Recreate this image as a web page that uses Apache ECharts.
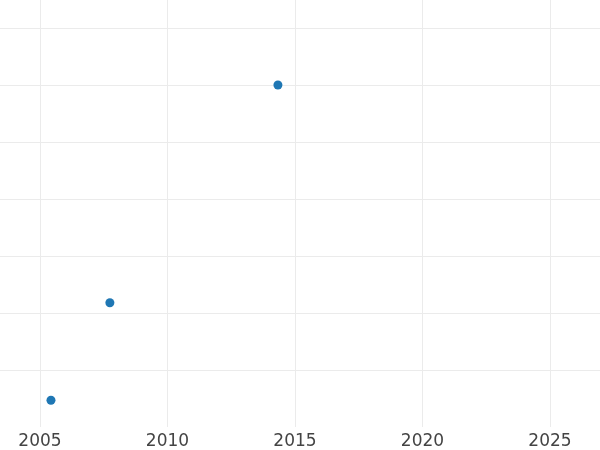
<!DOCTYPE html>
<html>
<head>
<meta charset="utf-8">
<script src="https://cdn.jsdelivr.net/npm/echarts@6/dist/echarts.min.js"></script>
<style>
html,body{margin:0;padding:0;background:#fff;}
#chart{width:600px;height:450px;}
</style>
</head>
<body>
<div id="chart"></div>
<script>
// Data
const years = [2005.43, 2007.74, 2014.33];
const values = [0.47, 2.18, 6.0];
const xTicks = [2005, 2010, 2015, 2020, 2025];

const chart = echarts.init(document.getElementById('chart'), null, {renderer: 'canvas'});
const points = years.map((y, i) => [y, values[i]]);

const G = '#ebebeb', N = 'rgba(0,0,0,0)';

chart.setOption({
  animation: false,
  backgroundColor: '#ffffff',
  grid: {left: -87.5, right: -77.5, top: -29, bottom: 23, containLabel: false, outerBoundsMode: 'none'},
  xAxis: {
    type: 'value',
    min: 2000, max: 2030, interval: 5,
    axisLine: {show: false, onZero: false},
    axisTick: {show: false},
    axisLabel: {
      show: true, margin: 6,
      fontFamily: 'DejaVu Sans', fontSize: 17, color: '#444444',
      formatter: v => (xTicks.indexOf(v) >= 0 ? String(v) : '')
    },
    splitLine: {show: true, lineStyle: {color: G, width: 1}}
  },
  yAxis: {
    type: 'value',
    min: 0, max: 8, interval: 1,
    axisLine: {show: false},
    axisTick: {show: false},
    axisLabel: {show: false},
    splitLine: {show: true, lineStyle: {color: [N, G, G, G, G, G, G, G, N], width: 1}}
  },
  series: [{
    type: 'scatter',
    data: points,
    symbol: 'circle',
    symbolSize: 9,
    itemStyle: {color: '#1f77b4', opacity: 1}
  }]
});
</script>
</body>
</html>
